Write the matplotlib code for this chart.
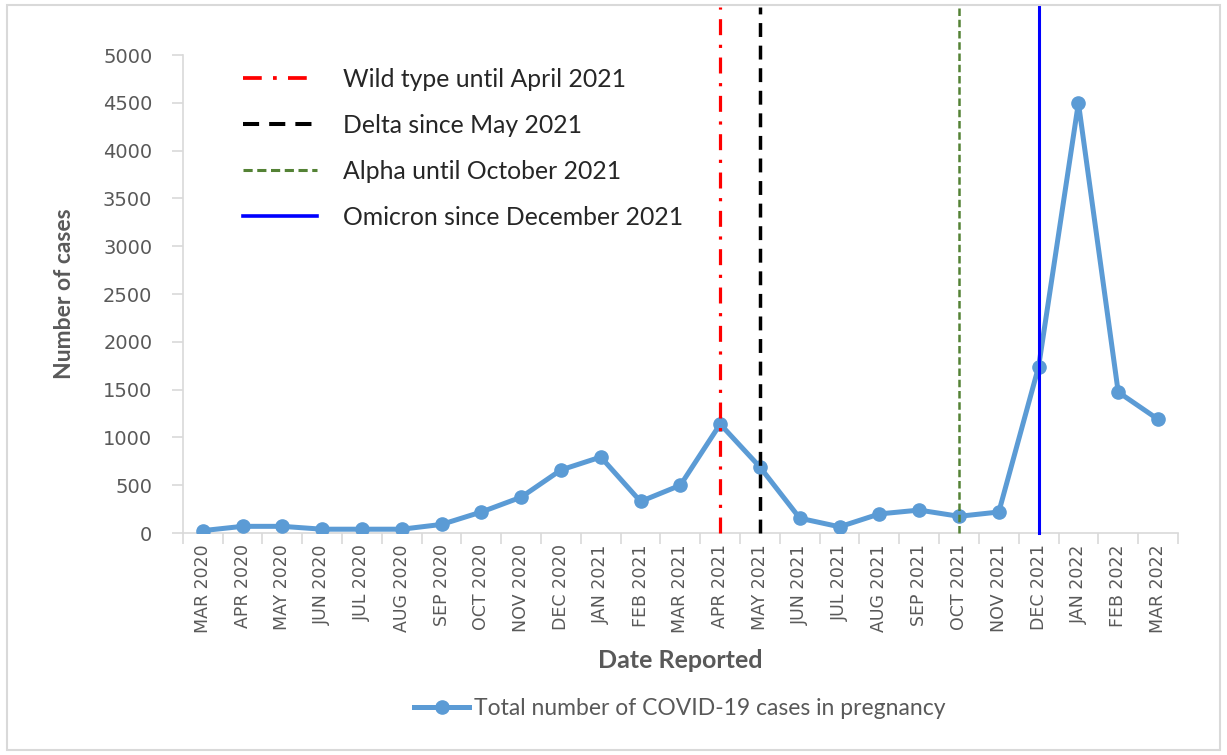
import numpy as np
import matplotlib.pyplot as plt
from matplotlib.lines import Line2D
from matplotlib.patches import Rectangle

# monthly totals
months = ["MAR 2020", "APR 2020", "MAY 2020", "JUN 2020", "JUL 2020", "AUG 2020",
          "SEP 2020", "OCT 2020", "NOV 2020", "DEC 2020", "JAN 2021", "FEB 2021",
          "MAR 2021", "APR 2021", "MAY 2021", "JUN 2021", "JUL 2021", "AUG 2021",
          "SEP 2021", "OCT 2021", "NOV 2021", "DEC 2021", "JAN 2022", "FEB 2022",
          "MAR 2022"]
cases = [25, 70, 70, 40, 40, 40, 90, 220, 375, 660, 795, 330, 500, 1140, 690,
         155, 65, 200, 240, 175, 220, 1740, 4500, 1475, 1190]

# variant markers: label, month, colour, style, width
variants = [
    ("Wild type until April 2021", "APR 2021", "#FF0000", (0, (5, 3, 1, 3)), 2.3),
    ("Delta since May 2021", "MAY 2021", "#000000", (0, (4, 2.5)), 2.5),
    ("Alpha until October 2021", "OCT 2021", "#548235", (0, (3, 1.5)), 1.8),
    ("Omicron since December 2021", "DEC 2021", "#0000FF", "-", 2.2),
]
yticks = [0, 500, 1000, 1500, 2000, 2500, 3000, 3500, 4000, 4500, 5000]

grey = "#595959"
blue = "#5B9BD5"

fig = plt.figure(figsize=(12.27, 7.55), dpi=100)
fig.patches.append(Rectangle((0.006, 0.007), 0.988, 0.986, transform=fig.transFigure,
                             fill=False, edgecolor="#D9D9D9", linewidth=1.5))
ax = fig.add_axes([0.149, 0.294, 0.811, 0.633])

x = np.arange(len(months)) + 0.5
ax.plot(x, cases, color=blue, linewidth=3.6, marker="o", markersize=9.5,
        solid_joinstyle="round", zorder=3)

handles = []
for label, month, col, ls, lw in variants:
    xi = months.index(month) + 0.5
    ax.plot([xi, xi], [0, 5500], color=col, linestyle=ls, linewidth=lw,
            clip_on=False, zorder=4)
    handles.append(Line2D([], [], color=col, linestyle=ls, linewidth=lw + 0.4))

ax.set_xlim(0, len(months))
ax.set_ylim(0, 5000)
ax.set_yticks(yticks)
ax.set_xticks(x)
ax.set_xticklabels(months, rotation=90, fontsize=12.5, color=grey)
ax.set_xticks(np.arange(len(months) + 1), minor=True)
ax.tick_params(axis="x", which="major", length=0, pad=8)
ax.tick_params(axis="x", which="minor", length=8, color="#D9D9D9", width=1.2)
ax.tick_params(axis="y", length=8, color="#D9D9D9", width=1.2, labelsize=14,
               labelcolor=grey, pad=14)

for s in ["top", "right"]:
    ax.spines[s].set_visible(False)
for s in ["left", "bottom"]:
    ax.spines[s].set_color("#D9D9D9")
    ax.spines[s].set_linewidth(1.2)

ax.set_ylabel("Number of cases", fontsize=16.5, fontweight="bold", color=grey,
              family="Lato", labelpad=20)
ax.set_xlabel("Date Reported", fontsize=18, fontweight="bold", color=grey,
              family="Lato", labelpad=12)

fig.legend(handles, [v[0] for v in variants], loc="upper left",
           bbox_to_anchor=(0.18, 0.94), frameon=False, handlelength=3.0,
           handletextpad=1.05, labelspacing=0.93,
           prop={"family": "Lato", "size": 17.8}, labelcolor="#262626")

fig.legend([Line2D([], [], color=blue, linewidth=3.6, marker="o", markersize=9.5)],
           ["Total number of COVID-19 cases in pregnancy"], loc="center",
           bbox_to_anchor=(0.554, 0.061), frameon=False, handlelength=2.4,
           handletextpad=0.2, prop={"family": "Lato", "size": 16.5},
           labelcolor=grey)

fig.savefig("out.png", dpi=100)
